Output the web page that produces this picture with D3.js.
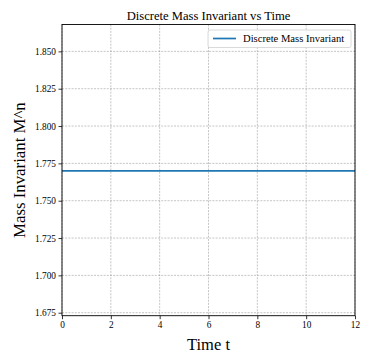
<!DOCTYPE html>
<html><head><meta charset="utf-8">
<script src="https://cdn.jsdelivr.net/npm/d3@7"></script>
<style>
body{margin:0;background:#fff;}
text{font-family:"Liberation Serif","Times New Roman",serif;}
</style></head>
<body><svg id="c" width="367" height="359"></svg>
<script>
const times = [0,1,2,3,4,5,6,7,8,9,10,11,12];
const massValues = [1.770,1.770,1.770,1.770,1.770,1.770,1.770,1.770,1.770,1.770,1.770,1.770,1.770];
const xTicks = [0,2,4,6,8,10,12];
const yTicks = [1.675,1.700,1.725,1.750,1.775,1.800,1.825,1.850];
const title = "Discrete Mass Invariant vs Time";
const xLabel = "Time t";
const yLabel = "Mass Invariant M^n";
const seriesName = "Discrete Mass Invariant";

const FONT = "Liberation Serif, Times New Roman, serif";
const svg = d3.select("#c");
const L=62, R=355, T=24.5, B=315.7;
const x = d3.scaleLinear().domain([0,12]).range([L,R]);
const y = d3.scaleLinear().domain([1.673,1.868]).range([B,T]);

// grid
const g = svg.append("g");
g.selectAll("line.gx").data(xTicks).enter().append("line")
 .attr("x1",d=>x(d)).attr("x2",d=>x(d)).attr("y1",T).attr("y2",B)
 .attr("stroke","#a0a0a0").attr("stroke-width",0.6).attr("stroke-dasharray","2,1.2");
g.selectAll("line.gy").data(yTicks).enter().append("line")
 .attr("y1",d=>y(d)).attr("y2",d=>y(d)).attr("x1",L).attr("x2",R)
 .attr("stroke","#a0a0a0").attr("stroke-width",0.6).attr("stroke-dasharray","2,1.2");

// line
svg.append("path").datum(times.map((t,i)=>[t,massValues[i]]))
 .attr("d",d3.line().x(d=>x(d[0])).y(d=>y(d[1])))
 .attr("fill","none").attr("stroke","#1f77b4").attr("stroke-width",1.7);

// axes
const xa = svg.append("g").attr("transform",`translate(0,${B})`)
 .call(d3.axisBottom(x).tickValues(xTicks).tickSize(3.5).tickPadding(2.5).tickFormat(d3.format("d")));
const ya = svg.append("g").attr("transform",`translate(${L},0)`)
 .call(d3.axisLeft(y).tickValues(yTicks).tickSize(3.5).tickPadding(2.5).tickFormat(d3.format(".3f")));
[xa,ya].forEach(a=>{a.select(".domain").remove();
 a.attr("font-family",FONT).attr("font-size",9.3);
 a.selectAll("text").attr("font-family",FONT).attr("font-size",9.3).attr("fill","#000");
 a.selectAll("line").attr("stroke","#000").attr("stroke-width",0.8);});

// frame
svg.append("rect").attr("x",L).attr("y",T).attr("width",R-L).attr("height",B-T)
 .attr("fill","none").attr("stroke","#000").attr("stroke-width",0.9);

// title & labels
svg.append("text").attr("x",(L+R)/2).attr("y",19.5).attr("text-anchor","middle")
 .attr("font-family",FONT).attr("font-size",12.6).text(title);
svg.append("text").attr("x",(L+R)/2).attr("y",350).attr("text-anchor","middle")
 .attr("font-family",FONT).attr("font-size",16.5).text(xLabel);
svg.append("text").attr("transform",`translate(25,${(T+B)/2}) rotate(-90)`).attr("text-anchor","middle")
 .attr("font-family",FONT).attr("font-size",16.8).text(yLabel);

// legend
const lg = svg.append("g");
lg.append("rect").attr("x",208).attr("y",30).attr("width",143).attr("height",17.5).attr("rx",2)
 .attr("fill","#fff").attr("fill-opacity",0.85).attr("stroke","#d0d0d0").attr("stroke-width",0.8);
lg.append("line").attr("x1",213).attr("x2",236).attr("y1",38.5).attr("y2",38.5)
 .attr("stroke","#1f77b4").attr("stroke-width",1.7);
lg.append("text").attr("x",243).attr("y",42).attr("font-family",FONT).attr("font-size",10.6).text(seriesName);
</script></body></html>
